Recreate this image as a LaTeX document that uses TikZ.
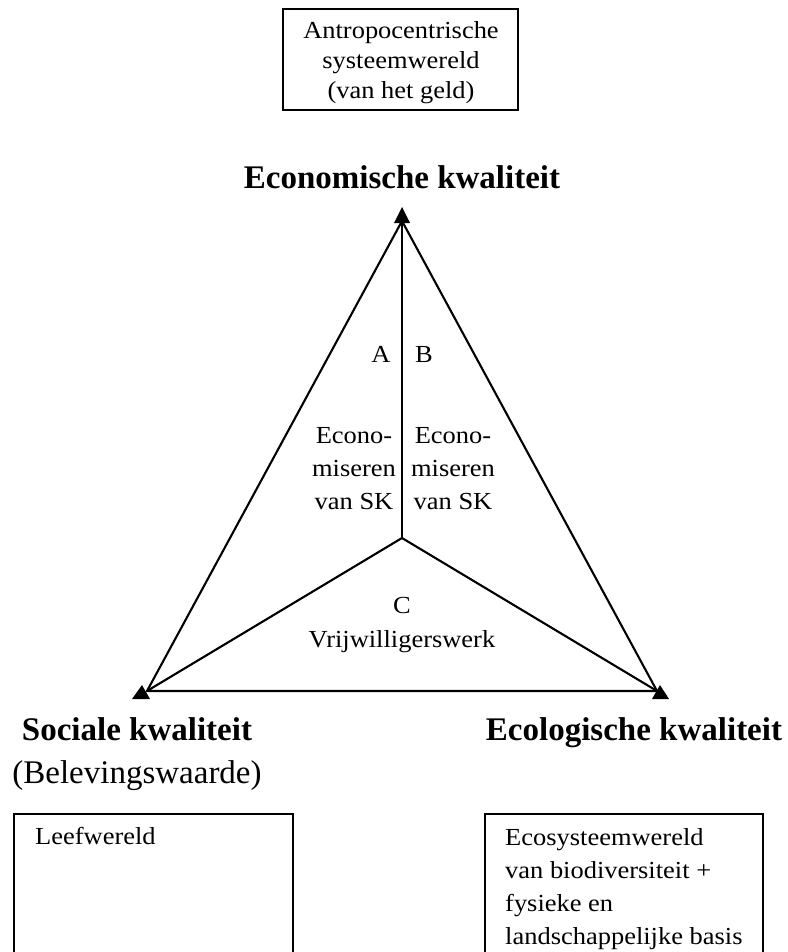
\documentclass[tikz,border=0pt]{standalone}
\usepackage{fontspec}
\setmainfont[FakeStretch=1.08]{Liberation Serif}
\newfontfamily\bigfam{Liberation Serif}
\usetikzlibrary{calc}
\tikzset{
  txt/.style={inner sep=0pt, font=\fontsize{24.5}{33}\selectfont, align=center},
  bigb/.style={inner sep=0pt, anchor=base, font=\bigfam\fontsize{33}{40}\selectfont\bfseries},
  bigr/.style={inner sep=0pt, anchor=base, font=\bigfam\fontsize{33}{40}\selectfont},
  edge/.style={line width=2.1pt, line join=miter},
  marker/.style={fill=black},
  frame/.style={line width=1.9pt},
}
\begin{document}
\begin{tikzpicture}[x=1pt,y=-1pt]
\useasboundingbox (0,0) rectangle (787,952);
\clip (0,0) rectangle (787,952);
% top box
\draw[frame] (283,9) rectangle (518,110);
\node[txt, font=\fontsize{24.5}{30}\selectfont, anchor=north] (toptext) at (401,21.5) {Antropocentrische\\systeemwereld\\(van het geld)};
% corner labels
\node[bigb] (eco) at (402,188) {Economische kwaliteit};
\node[bigb] (soc) at (137,740) {Sociale kwaliteit};
\node[bigr] (bel) at (137,783) {(Belevingswaarde)};
\node[bigb] (ecol) at (634,740) {Ecologische kwaliteit};
% triangle
\coordinate (T) at (402,221);
\coordinate (BL) at (147,691);
\coordinate (BR) at (657,691);
\coordinate (M) at (402,538);
\draw[edge] (T) -- (BL) -- (BR) -- cycle;
\draw[edge] (T) -- (M);
\draw[edge] (M) -- (BL);
\draw[edge] (M) -- (BR);
% markers
\fill[marker] ($(T)+(0,-14)$) -- ($(T)+(-8,2)$) -- ($(T)+(8,2)$) -- cycle;
\fill[marker] ($(BL)+(-5,-6)$) -- ($(BL)+(-15,8)$) -- ($(BL)+(3,8)$) -- cycle;
\fill[marker] ($(BR)+(3,-6)$) -- ($(BR)+(-5,8)$) -- ($(BR)+(12,8)$) -- cycle;
% inner labels
\node[txt, anchor=base] (A) at (381,362) {A};
\node[txt, anchor=base] (B) at (424,362) {B};
\node[txt, anchor=north] (ltxt) at (354,427) {Econo-\\miseren\\van SK};
\node[txt, anchor=north] (rtxt) at (453,427) {Econo-\\miseren\\van SK};
\node[txt, anchor=north, font=\fontsize{24.5}{34}\selectfont] (C) at (402,597) {C\\Vrijwilligerswerk};
% bottom boxes
\draw[frame] (14,965) -- (14,814) -- (293,814) -- (293,965);
\draw[frame] (485,965) -- (485,814) -- (763,814) -- (763,965);
\node[txt, anchor=base west] (leef) at (35,844) {Leefwereld};
\node[txt, align=left, anchor=north west] (ecosys) at (505,828) {Ecosysteemwereld\\van biodiversiteit +\\fysieke en\\landschappelijke basis};
\end{tikzpicture}
\end{document}
